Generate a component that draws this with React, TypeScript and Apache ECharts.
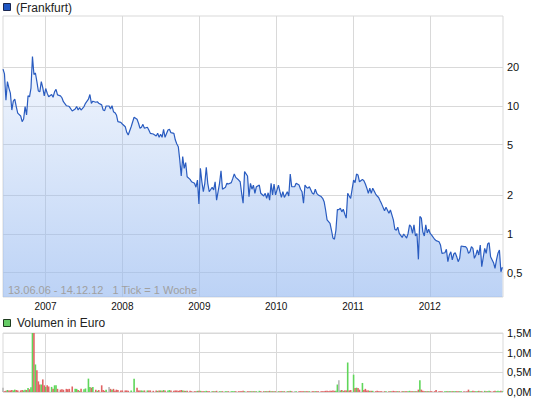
import React, { useEffect, useRef } from "react";
import * as echarts from "echarts";

const START = Date.UTC(2006, 5, 13);
const END = Date.UTC(2012, 11, 14);
const WEEK = 7 * 86400000;

// week index (since 13.06.06) of each sampled weekly close
const weeks = [
  0, 1, 2, 3, 4, 5, 6, 7, 8, 9, 10, 12, 13, 14, 15, 16, 17, 18, 19, 20, 21, 22, 23, 24, 25, 26, 27, 28, 29, 30, 31, 33, 34, 35, 36, 37, 39, 40, 41, 43, 44, 45, 47, 49, 50, 51, 52, 53, 55, 56, 58, 59, 60, 61, 63, 64, 65, 67, 68, 69, 70, 72, 73, 74, 75, 76, 77, 78, 80, 81, 83, 84, 85,
  87, 89, 91, 92, 93, 94, 95, 96, 98, 99, 100, 102, 104, 105, 106, 107, 108, 109, 110, 112, 113, 114, 116, 117, 118, 119, 120, 121, 122, 123, 124, 125, 127, 128, 130, 131, 132, 133, 134, 135, 136, 137, 138, 139, 140, 142, 143, 144, 145, 147, 148, 149, 151, 152, 153, 155, 156, 157, 158, 160, 161, 162, 163, 164, 166, 167, 168, 169, 170,
  171, 172, 174, 175, 177, 178, 179, 180, 181, 182, 183, 184, 185, 187, 188, 189, 190, 191, 193, 194, 195, 196, 198, 199, 201, 202, 203, 204, 205, 206, 207, 208, 210, 211, 212, 213, 214, 216, 217, 218, 219, 220, 221, 222, 223, 224, 225, 226, 227, 228, 229, 230, 231, 232, 233, 234, 235, 236, 238, 239, 240, 241, 242, 244, 245, 246, 247, 248, 249, 250, 251, 253, 254, 255,
  256, 257, 259, 260, 262, 263, 264, 265, 266, 267, 268, 269, 271, 272, 273, 274, 275, 276, 277, 278, 279, 280, 281, 282, 283, 284, 285, 286, 287, 288, 289, 290, 291, 293, 294, 296, 297, 298, 300, 301, 302, 303, 304, 305, 306, 307, 308, 309, 310, 311, 313, 314, 315, 316, 317, 318, 319, 320, 321, 322, 323, 324, 325, 327, 328, 329, 330, 331, 333, 334, 335, 336, 337, 338, 339,
];

const prices = [
  19.4, 17.8, 11.1, 15.5, 13.8, 12.6, 9.3, 10.9, 11.3, 9.9, 8.8, 8.36, 7.54, 7.91, 9.9, 8.51, 12.0, 11.8, 13.8, 24.3, 17.6, 18.1, 15.5, 13.1, 12.9, 15.5, 13.9, 12.0, 13.7, 12.6, 11.8, 12.3, 11.7, 12.9, 13.5, 12.2, 12.0, 11.6, 10.8, 10.05, 10.0, 9.9, 9.14, 9.48, 9.9, 9.3, 9.7, 9.3, 9.9, 10.5, 11.3, 12.3, 10.5, 10.9, 10.7, 10.8, 10.5, 10.2, 9.3, 9.19, 10.0, 10.0, 9.48, 10.05, 9.03, 8.87, 8.51, 7.54, 7.46, 7.23, 6.89, 6.23, 5.93,
  6.89, 8.16, 7.87, 7.33, 6.7, 6.82, 7.19, 6.7, 6.82, 6.49, 6.12, 6.04, 5.83, 6.12, 5.69, 6.01, 5.69, 6.58, 5.69, 6.49, 6.58, 6.19, 6.12, 5.42, 5.05, 4.81, 3.79, 2.84, 4.02, 3.26, 3.61, 2.8, 2.67, 2.56, 2.49, 2.32, 2.64, 1.72, 3.26, 2.56, 2.14, 2.49, 3.32, 2.49, 2.14, 2.32, 2.21, 2.56, 1.84, 2.49, 3.12, 2.24, 2.32, 2.49, 2.46, 2.52, 2.72, 2.94, 2.77, 2.64, 2.56, 2.08, 1.74, 3.07, 2.84, 1.96, 2.49, 2.24, 2.41,
  2.08, 2.34, 2.41, 2.08, 1.98, 2.08, 1.9, 2.1, 1.84, 2.49, 2.02, 2.46, 2.02, 2.41, 2.14, 1.93, 2.14, 1.93, 2.14, 1.98, 2.94, 2.34, 2.34, 2.49, 2.41, 2.24, 2.14, 1.74, 2.41, 2.32, 2.28, 2.34, 2.08, 2.05, 2.24, 2.08, 2.02, 1.96, 1.9, 1.79, 1.54, 1.29, 1.25, 1.21, 1.07, 0.93, 0.91, 1.07, 1.55, 1.55, 1.59, 1.49, 1.56, 1.43, 1.33, 2.08, 1.98, 1.9, 2.64, 2.52, 2.94, 2.89, 2.56, 2.67, 2.61, 2.46, 2.28, 2.08, 2.28, 2.08, 2.28, 2.05, 1.98, 1.93,
  1.82, 1.72, 1.52, 1.62, 1.45, 1.54, 1.41, 1.29, 1.09, 1.07, 1.13, 1.01, 0.94, 1.0, 0.965, 0.93, 1.01, 1.18, 1.14, 1.01, 1.18, 0.965, 1.01, 0.634, 1.37, 1.33, 1.04, 0.965, 1.18, 1.02, 1.09, 1.01, 0.98, 0.91, 0.887, 0.87, 0.82, 0.707, 0.714, 0.76, 0.608, 0.686, 0.727, 0.627, 0.698, 0.714, 0.665, 0.608, 0.646, 0.806, 0.796, 0.796, 0.773, 0.707, 0.727, 0.796, 0.773, 0.646, 0.686, 0.75, 0.686, 0.82, 0.555, 0.773, 0.707, 0.835, 0.855, 0.665, 0.597, 0.54, 0.627, 0.707, 0.75, 0.507, 0.55,
];

// weekly volume in million euro
const volumes = [
  0.11, 0.02, 0.03, 0.05, 0.04, 0.04, 0.05, 0.04, 0.06, 0.05, 0.04, 0.04, 0.05, 0.04, 0.06, 0.05, 0.1, 0.07, 0.12, 1.6, 1.6, 0.7, 0.55, 0.27, 0.19, 0.19, 0.32, 0.17, 0.13, 0.17, 0.14, 0.13, 0.08, 0.17, 0.17, 0.08, 0.06, 0.07, 0.06, 0.08, 0.07, 0.08, 0.14, 0.08, 0.08, 0.05, 0.03, 0.08, 0.07, 0.09, 0.34, 0.13, 0.11, 0.13, 0.06, 0.03, 0.05, 0.17, 0.05, 0.03, 0.06, 0.13, 0.08, 0.06, 0.08, 0.03, 0.06, 0.05, 0.04, 0.04, 0.04, 0.04, 0.03,
  0.04, 0.34, 0.11, 0.04, 0.04, 0.04, 0.03, 0.04, 0.04, 0.04, 0.04, 0.03, 0.04, 0.03, 0.04, 0.04, 0.03, 0.05, 0.04, 0.04, 0.05, 0.04, 0.03, 0.04, 0.04, 0.03, 0.04, 0.05, 0.04, 0.03, 0.03, 0.03, 0.03, 0.02, 0.02, 0.02, 0.03, 0.03, 0.03, 0.02, 0.02, 0.02, 0.03, 0.02, 0.02, 0.02, 0.02, 0.02, 0.03, 0.02, 0.02, 0.02, 0.02, 0.02, 0.02, 0.02, 0.02, 0.02, 0.02, 0.02, 0.02, 0.02, 0.03, 0.02, 0.02, 0.02, 0.02, 0.02, 0.02,
  0.02, 0.02, 0.03, 0.02, 0.02, 0.02, 0.02, 0.02, 0.03, 0.02, 0.02, 0.02, 0.02, 0.02, 0.02, 0.02, 0.02, 0.02, 0.02, 0.02, 0.03, 0.02, 0.02, 0.02, 0.02, 0.02, 0.02, 0.02, 0.02, 0.02, 0.02, 0.02, 0.02, 0.02, 0.02, 0.02, 0.02, 0.02, 0.02, 0.02, 0.03, 0.03, 0.02, 0.03, 0.03, 0.04, 0.03, 0.03, 0.19, 0.3, 0.04, 0.05, 0.03, 0.04, 0.04, 0.75, 0.04, 0.05, 0.44, 0.1, 0.11, 0.1, 0.06, 0.23, 0.05, 0.08, 0.04, 0.04, 0.03, 0.03, 0.03, 0.02, 0.03, 0.02,
  0.02, 0.02, 0.02, 0.02, 0.02, 0.02, 0.02, 0.03, 0.02, 0.02, 0.02, 0.02, 0.02, 0.02, 0.02, 0.02, 0.02, 0.03, 0.02, 0.02, 0.02, 0.02, 0.02, 0.06, 0.3, 0.06, 0.03, 0.02, 0.02, 0.02, 0.02, 0.02, 0.02, 0.02, 0.05, 0.02, 0.02, 0.02, 0.02, 0.02, 0.02, 0.02, 0.02, 0.02, 0.02, 0.02, 0.02, 0.02, 0.02, 0.02, 0.02, 0.02, 0.02, 0.06, 0.02, 0.02, 0.03, 0.02, 0.02, 0.02, 0.03, 0.02, 0.02, 0.03, 0.02, 0.02, 0.03, 0.02, 0.02, 0.03, 0.02, 0.03, 0.02, 0.03, 0.02,
];

const priceTicks = [0.5, 1, 2, 5, 10, 20];
const volumeTicks = [0, 0.5, 1.0, 1.5];
const yearTicks = [2007, 2008, 2009, 2010, 2011, 2012];
const dateNote = "13.06.06 - 14.12.12\u00a0\u00a0\u00a01 Tick = 1 Woche";
const priceLegend = "(Frankfurt)";
const volumeLegend = "Volumen in Euro";

const FONT = '"Liberation Sans", Arial, Helvetica, sans-serif';
const GRID = "#d9d9d9";

function comma(v: number, digits: number) {
  return v.toFixed(digits).replace(".", ",");
}

export default function App() {
  const ref = useRef<HTMLDivElement>(null);

  useEffect(() => {
    if (!ref.current) return;
    const chart = echarts.init(ref.current, null, { renderer: "svg" });
    const yearStamps = yearTicks.map((y) => Date.UTC(y, 0, 1));
    const logTicks = priceTicks.map((t) => Math.log10(t));
    const times = weeks.map((w) => START + w * WEEK);

    const priceData = times.map((t, i) => [t, Math.log10(prices[i])]);
    const volData = times.map((t, i) => {
      let color = "#b8b8b8";
      if (i > 0 && prices[i] > prices[i - 1]) color = "#5fd65a";
      else if (i > 0 && prices[i] < prices[i - 1]) color = "#e06464";
      return { value: [t, volumes[i]], itemStyle: { color } };
    });

    const xCommon = {
      type: "value" as const,
      min: START,
      max: END,
      axisLine: { show: false },
      axisTick: { show: false, customValues: yearStamps },
      splitLine: { show: true, lineStyle: { color: GRID, width: 1 } },
    };

    chart.setOption({
      animation: false,
      textStyle: { fontFamily: FONT },
      grid: [
        { left: 3, right: 42, top: 16, height: 281, show: true, borderColor: GRID, borderWidth: 1, backgroundColor: "#fff", outerBoundsMode: "none" },
        { left: 3, right: 42, top: 333, height: 59, show: true, borderColor: GRID, borderWidth: 1, backgroundColor: "#fff", outerBoundsMode: "none" },
      ],
      xAxis: [
        {
          ...xCommon,
          gridIndex: 0,
          axisLabel: {
            customValues: yearStamps,
            formatter: (v: number) => String(new Date(v).getUTCFullYear()),
            fontSize: 10,
            color: "#111",
            margin: 4,
            fontFamily: FONT,
          },
        },
        { ...xCommon, gridIndex: 1, axisLabel: { show: false, customValues: yearStamps } },
      ],
      yAxis: [
        {
          type: "value",
          gridIndex: 0,
          position: "right",
          min: -0.492,
          max: 1.703,
          axisLine: { show: false },
          axisTick: { show: false, customValues: logTicks },
          axisLabel: {
            customValues: logTicks,
            formatter: (v: number) => {
              const x = Math.round(Math.pow(10, v) * 10) / 10;
              return Number.isInteger(x) ? String(x) : comma(x, 1);
            },
            fontSize: 11,
            color: "#111",
            margin: 4,
            fontFamily: FONT,
          },
          splitLine: { show: true, lineStyle: { color: GRID, width: 1 } },
        },
        {
          type: "value",
          gridIndex: 1,
          position: "right",
          min: volumeTicks[0],
          max: volumeTicks[volumeTicks.length - 1],
          interval: 0.5,
          axisLine: { show: false },
          axisTick: { show: false },
          axisLabel: {
            formatter: (v: number) => comma(v, 1) + "M",
            fontSize: 11,
            color: "#111",
            margin: 4,
            fontFamily: FONT,
          },
          splitLine: { show: true, lineStyle: { color: GRID, width: 1 } },
        },
      ],
      series: [
        {
          type: "line",
          xAxisIndex: 0,
          yAxisIndex: 0,
          data: priceData,
          symbol: "none",
          showSymbol: false,
          lineStyle: { color: "#2a5cc0", width: 1.2 },
          areaStyle: {
            origin: "start",
            opacity: 1,
            color: new echarts.graphic.LinearGradient(0, 0, 0, 1, [
              { offset: 0, color: "rgba(150,185,240,0.12)" },
              { offset: 1, color: "rgba(150,185,240,0.64)" },
            ]),
          },
        },
        {
          type: "bar",
          xAxisIndex: 1,
          yAxisIndex: 1,
          data: volData,
          barWidth: 1.6,
          clip: true,
        },
      ],
      graphic: [
        { type: "rect", z: 10, shape: { x: 3.5, y: 3.5, width: 7, height: 7 }, style: { fill: "#1f56c3", stroke: "#1b2750", lineWidth: 1 } },
        { type: "text", z: 10, x: 16, y: 7.5, style: { text: priceLegend, fontSize: 12, fontFamily: FONT, fill: "#222", verticalAlign: "middle" } },
        { type: "rect", z: 10, shape: { x: 3.5, y: 319.5, width: 7, height: 7 }, style: { fill: "#66cc66", stroke: "#1f3a1f", lineWidth: 1 } },
        { type: "text", z: 10, x: 17, y: 323, style: { text: volumeLegend, fontSize: 12, fontFamily: FONT, fill: "#222", verticalAlign: "middle" } },
        { type: "text", z: 10, x: 8, y: 290, style: { text: dateNote, fontSize: 11, fontFamily: FONT, fill: "#a0a0a0", verticalAlign: "middle" } },
      ],
    });
    return () => chart.dispose();
  }, []);

  return (
    <div
      ref={ref}
      style={{ position: "fixed", left: 0, top: 0, width: 545, height: 401, background: "#fff" }}
    />
  );
}
